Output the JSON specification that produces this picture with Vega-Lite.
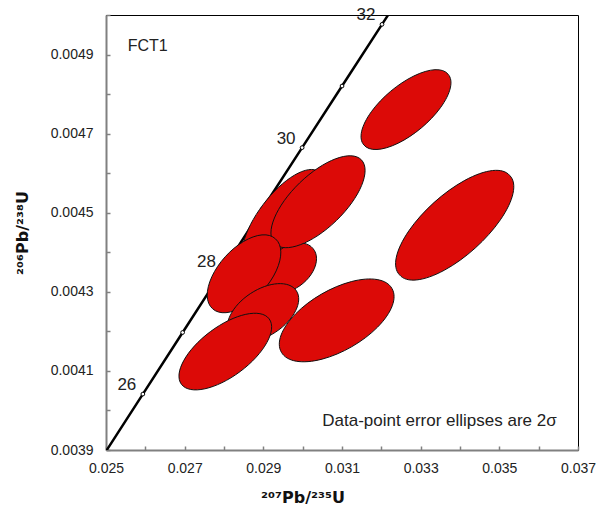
{
  "$schema": "https://vega.github.io/schema/vega-lite/v6.json",
  "width": 472,
  "height": 435,
  "autosize": "none",
  "padding": {"left": 106, "top": 15, "right": 21, "bottom": 57},
  "background": "white",
  "config": {
    "view": {"stroke": "black", "strokeWidth": 1},
    "font": "Liberation Sans",
    "axis": {
      "grid": false,
      "domainColor": "#808080",
      "domainWidth": 2,
      "tickColor": "#808080",
      "tickWidth": 1.5,
      "tickSize": -4,
      "labelFont": "Liberation Sans",
      "labelFontSize": 14,
      "labelColor": "#222222",
      "titleFont": "DejaVu Sans",
      "titleFontSize": 16,
      "titleFontWeight": "bold",
      "titleColor": "#111111"
    }
  },
  "datasets": {
    "concordia": [
      {"age": 25, "x": 0.024927, "y": 0.0038857},
      {"age": 26, "x": 0.025937, "y": 0.0040414},
      {"age": 27, "x": 0.026948, "y": 0.0041972},
      {"age": 28, "x": 0.02796, "y": 0.0043529},
      {"age": 29, "x": 0.028972, "y": 0.0045088},
      {"age": 30, "x": 0.029986, "y": 0.0046646},
      {"age": 31, "x": 0.031001, "y": 0.0048204},
      {"age": 32, "x": 0.032017, "y": 0.0049763},
      {"age": 33, "x": 0.033034, "y": 0.0051322}
    ],
    "ellipses": [
      {"id": "e1", "x": 0.0295, "y": 0.0044823},
      {"id": "e2", "x": 0.029678, "y": 0.0043608},
      {"id": "e3", "x": 0.03039, "y": 0.0045278},
      {"id": "e4", "x": 0.028509, "y": 0.0043456},
      {"id": "e5", "x": 0.028992, "y": 0.0042468},
      {"id": "e6", "x": 0.028033, "y": 0.0041489},
      {"id": "e7", "x": 0.030865, "y": 0.0042278},
      {"id": "e8", "x": 0.032627, "y": 0.0047608},
      {"id": "e9", "x": 0.033865, "y": 0.0044684}
    ]
  },
  "encoding": {
    "x": {
      "field": "x",
      "type": "quantitative",
      "scale": {"domain": [0.025, 0.037], "nice": false, "zero": false},
      "axis": {
        "title": "²⁰⁷Pb/²³⁵U",
        "values": [0.025, 0.026, 0.027, 0.028, 0.029, 0.03, 0.031, 0.032, 0.033, 0.034, 0.035, 0.036, 0.037],
        "labelExpr": "round(datum.value * 1000) % 2 == 1 ? format(datum.value, '.3f') : ''",
        "labelPadding": 15.5,
        "labelFlush": false,
        "labelOverlap": false,
        "titleX": 196.5,
        "titleY": 52,
        "titleBaseline": "alphabetic"
      }
    },
    "y": {
      "field": "y",
      "type": "quantitative",
      "scale": {"domain": [0.0039, 0.005], "nice": false, "zero": false},
      "axis": {
        "title": "²⁰⁶Pb/²³⁸U",
        "values": [0.0039, 0.004, 0.0041, 0.0042, 0.0043, 0.0044, 0.0045, 0.0046, 0.0047, 0.0048, 0.0049, 0.005],
        "labelExpr": "round(datum.value * 10000) % 2 == 1 ? format(datum.value, '.4f') : ''",
        "labelPadding": 17,
        "labelFlush": false,
        "labelOverlap": false,
        "titleX": -79,
        "titleBaseline": "alphabetic"
      }
    }
  },
  "layer": [
    {
      "data": {"name": "concordia"},
      "mark": {"type": "line", "color": "black", "strokeWidth": 2.5, "clip": true},
      "encoding": {"order": {"field": "age", "type": "quantitative"}}
    },
    {
      "data": {"name": "concordia"},
      "transform": [{"filter": "datum.age >= 26 && datum.age <= 32"}],
      "mark": {"type": "point", "shape": "circle", "filled": true, "fill": "white", "stroke": "black", "strokeWidth": 1, "size": 14, "opacity": 1}
    },
    {
      "data": {"name": "ellipses"},
      "mark": {"type": "point", "filled": true, "fill": "#dc0a07", "stroke": "#111111", "strokeWidth": 1, "opacity": 1},
      "encoding": {
        "shape": {
          "field": "id",
          "type": "nominal",
          "legend": null,
          "scale": {
            "domain": ["e1", "e2", "e3", "e4", "e5", "e6", "e7", "e8", "e9"],
            "range": [
              "M 3.612 -4.794 A 6 2.5 -53 1 1 -3.612 4.794 A 6 2.5 -53 1 1 3.612 -4.794 Z",
              "M 2.298 -1.928 A 3 2 -40 1 1 -2.298 1.928 A 3 2 -40 1 1 2.298 -1.928 Z",
              "M 4.336 -4.191 A 6.03 2.63 -44 1 1 -4.336 4.191 A 6.03 2.63 -44 1 1 4.336 -4.191 Z",
              "M 3.145 -3.492 A 4.7 2.5 -48 1 1 -3.145 3.492 A 4.7 2.5 -48 1 1 3.145 -3.492 Z",
              "M 3.336 -2.208 A 4 2.3 -33.5 1 1 -3.336 2.208 A 4 2.3 -33.5 1 1 3.336 -2.208 Z",
              "M 4.387 -3.271 A 5.47 2.49 -36.7 1 1 -4.387 3.271 A 5.47 2.49 -36.7 1 1 4.387 -3.271 Z",
              "M 5.525 -3.19 A 6.38 3.01 -30 1 1 -5.525 3.19 A 6.38 3.01 -30 1 1 5.525 -3.19 Z",
              "M 4.213 -3.535 A 5.5 2.36 -40 1 1 -4.213 3.535 A 5.5 2.36 -40 1 1 4.213 -3.535 Z",
              "M 5.513 -4.964 A 7.42 3.01 -42 1 1 -5.513 4.964 A 7.42 3.01 -42 1 1 5.513 -4.964 Z"
            ]
          }
        },
        "size": {"value": 400}
      }
    },
    {
      "data": {"name": "concordia"},
      "transform": [{"filter": {"field": "age", "oneOf": [26, 28, 30, 32]}}],
      "mark": {"type": "text", "font": "Liberation Sans", "fontSize": 17, "color": "#222222", "align": "center", "baseline": "middle", "dx": -16, "dy": -9},
      "encoding": {"text": {"field": "age", "type": "quantitative"}}
    },
    {
      "data": {"values": [{"x": 0.025552, "y": 0.0049084, "label": "FCT1"}]},
      "mark": {"type": "text", "font": "Liberation Sans", "fontSize": 16, "color": "#222222", "align": "left", "baseline": "alphabetic"},
      "encoding": {"text": {"field": "label", "type": "nominal"}}
    },
    {
      "data": {"values": [{"x": 0.036459, "y": 0.0039595, "label": "Data-point error ellipses are 2σ"}]},
      "mark": {"type": "text", "font": "Liberation Sans", "fontSize": 17, "color": "#222222", "align": "right", "baseline": "alphabetic"},
      "encoding": {"text": {"field": "label", "type": "nominal"}}
    }
  ]
}
